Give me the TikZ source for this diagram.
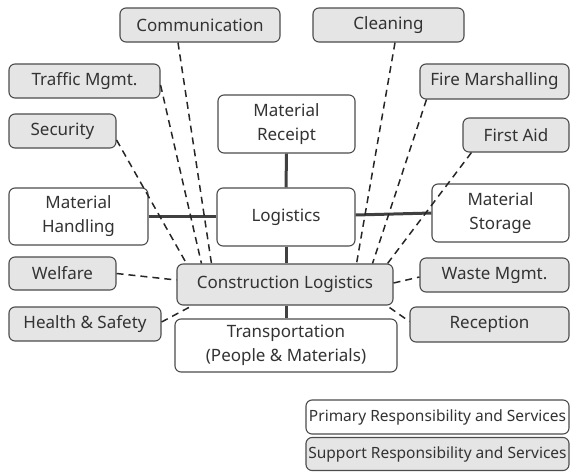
\documentclass[tikz,border=0pt]{standalone}
\usepackage{fontspec}
\setmainfont{Noto Sans}
\begin{document}
\begin{tikzpicture}[x=1pt,y=-1pt,
  box/.style={draw=black!70, line width=1.1pt, rounded corners=6pt, align=center,
    inner sep=0pt, font=\fontsize{17}{24}\selectfont, text=black!80},
  primary/.style={box, fill=white},
  support/.style={box, fill=black!10},
  legendtext/.style={font=\fontsize{15.5}{20}\selectfont},
  link/.style={line width=3pt, draw=black!75},
  dep/.style={dashed, line width=1.5pt, draw=black!85, dash pattern=on 7pt off 5pt}]
\useasboundingbox (0,0) rectangle (570,471);
\node[support, minimum width=160pt, minimum height=34pt] (comm) at (200,25) {Communication};
\node[support, minimum width=151pt, minimum height=34pt] (clean) at (388.5,25) {Cleaning};
\node[support, minimum width=151pt, minimum height=34pt] (traffic) at (84.5,81) {Traffic Mgmt.};
\node[support, minimum width=149pt, minimum height=35pt] (fire) at (494.5,81.5) {Fire Marshalling};
\node[support, minimum width=107pt, minimum height=34pt] (sec) at (62.5,131) {Security};
\node[support, minimum width=106pt, minimum height=34pt] (aid) at (516,135) {First Aid};
\node[primary, minimum width=137pt, minimum height=58pt] (receipt) at (286.5,124) {Material\\Receipt};
\node[primary, minimum width=139pt, minimum height=57pt] (handling) at (78.5,216.5) {Material\\Handling};
\node[primary, minimum width=138pt, minimum height=58pt] (logi) at (286,217) {Logistics};
\node[primary, minimum width=137pt, minimum height=58pt] (storage) at (500.5,213) {Material\\Storage};
\node[support, minimum width=107pt, minimum height=33pt] (welfare) at (62.5,273.5) {Welfare};
\node[support, minimum width=216pt, minimum height=41pt] (cl) at (285,284.5) {Construction Logistics};
\node[support, minimum width=149pt, minimum height=34pt] (waste) at (494.5,275) {Waste Mgmt.};
\node[support, minimum width=152pt, minimum height=34pt] (hs) at (85,324) {Health \& Safety};
\node[support, minimum width=159pt, minimum height=35pt] (recep) at (489.5,324.5) {Reception};
\node[primary, minimum width=222pt, minimum height=53pt] (trans) at (286,345.5) {Transportation\\(People \& Materials)};
\node[primary, legendtext, minimum width=263pt, minimum height=34pt] (prim) at (437.5,417) {Primary Responsibility and Services};
\node[support, legendtext, minimum width=263pt, minimum height=33pt] (supp) at (437.5,454) {Support Responsibility and Services};

% primary structure
\draw[link] (receipt.south) -- (logi.north);
\draw[link] (logi.south) -- (cl.north -| logi.south);
\draw[link] (cl.south -| logi.south) -- (trans.north -| logi.south);
\draw[link] (handling.east) -- (handling.east -| logi.west);
\draw[link] (logi.east) ++(0,2pt) -- (storage.west);

% support services feeding construction logistics
\draw[dep] ([yshift=-9pt]sec.east) -- ([xshift=10pt]cl.north west);
\draw[dep] ([yshift=-4pt]traffic.east) -- ([xshift=25pt]cl.north west);
\draw[dep] ([xshift=-22pt]comm.south) -- ([xshift=35pt]cl.north west);
\draw[dep] ([xshift=6.5pt]clean.south) -- ([xshift=-37pt]cl.north east);
\draw[dep] ([xshift=7pt]fire.south west) -- ([xshift=-21pt]cl.north east);
\draw[dep] ([xshift=9pt]aid.south west) -- ([xshift=-6pt]cl.north east);
\draw[dep] (welfare.east) -- ([yshift=4.5pt]cl.west);
\draw[dep] ([yshift=2pt]hs.east) -- ([xshift=16pt]cl.south west);
\draw[dep] ([yshift=1.5pt]cl.east) -- ([yshift=-2pt]waste.west);
\draw[dep] ([xshift=-4pt,yshift=-2pt]cl.south east) -- ([yshift=3pt]recep.west);
\end{tikzpicture}
\end{document}
